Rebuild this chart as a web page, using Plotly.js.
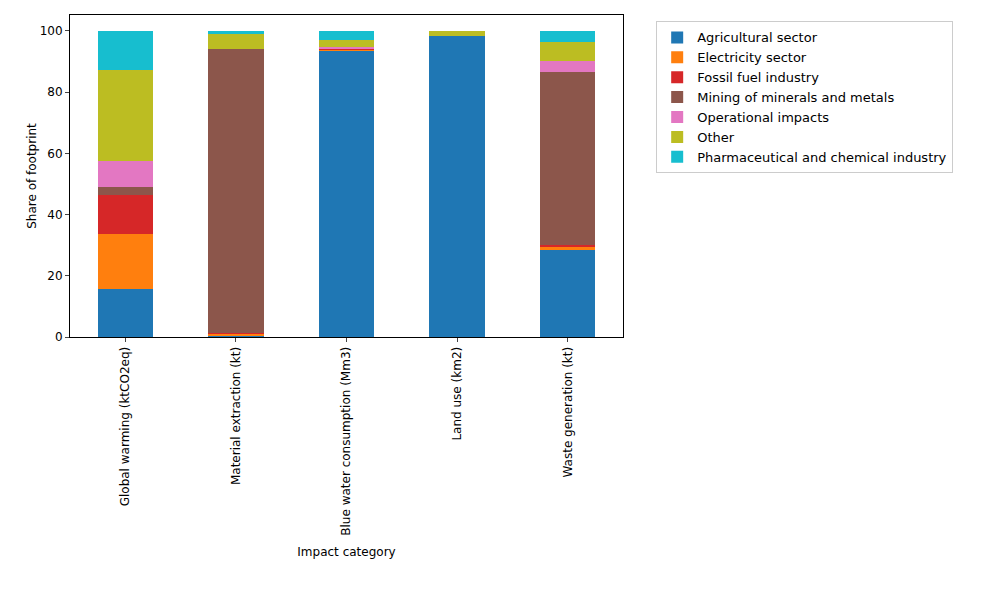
<!DOCTYPE html><html><head><script src="https://cdn.plot.ly/plotly-3.0.1.min.js"></script></head><body style="margin:0"><div id="c" style="width:1000px;height:600px"></div><script>
const categories=["Global warming (ktCO2eq)","Material extraction (kt)","Blue water consumption (Mm3)","Land use (km2)","Waste generation (kt)"];
const seriesNames=["Agricultural sector","Electricity sector","Fossil fuel industry","Mining of minerals and metals","Operational impacts","Other","Pharmaceutical and chemical industry"];
const agri=[15.7,0.5,93.6,98.4,28.4];
const elec=[18.0,0.5,0.3,0.05,1.3];
const fossil=[12.7,0.2,0.2,0.05,0.5];
const mining=[2.6,92.9,0.3,0,56.4];
const oper=[8.5,0.1,0.2,0,3.6];
const other=[29.8,4.8,2.4,1.5,6.2];
const pharma=[12.7,1.0,3.0,0,3.6];
const colors=["#1f77b4","#ff7f0e","#d62728","#8c564b","#e377c2","#bcbd22","#17becf"];
const vals=[agri,elec,fossil,mining,oper,other,pharma];
const data=vals.map((v,i)=>({type:"bar",x:categories,y:v,name:seriesNames[i],marker:{color:colors[i]},width:0.5}));
Plotly.newPlot("c",data,{barmode:"stack",width:1000,height:600,margin:{l:70,r:377,t:15,b:263},
font:{family:"DejaVu Sans",size:12,color:"#000"},plot_bgcolor:"#fff",paper_bgcolor:"#fff",
xaxis:{title:{text:"Impact category",standoff:12,font:{size:12}},tickangle:-90,showline:true,mirror:true,linecolor:"#000",ticks:"outside",ticklen:4,range:[-0.5,4.5]},
yaxis:{title:{text:"Share of footprint",font:{size:12}},range:[0,105.2],showgrid:false,showline:true,mirror:true,linecolor:"#000",ticks:"outside",ticklen:4,dtick:20,zeroline:false},
legend:{x:1.06,y:0.98,xanchor:"left",yanchor:"top",traceorder:"normal",bordercolor:"#ccc",borderwidth:1,font:{size:13},tracegroupgap:0}},{displayModeBar:false});
</script></body></html>
